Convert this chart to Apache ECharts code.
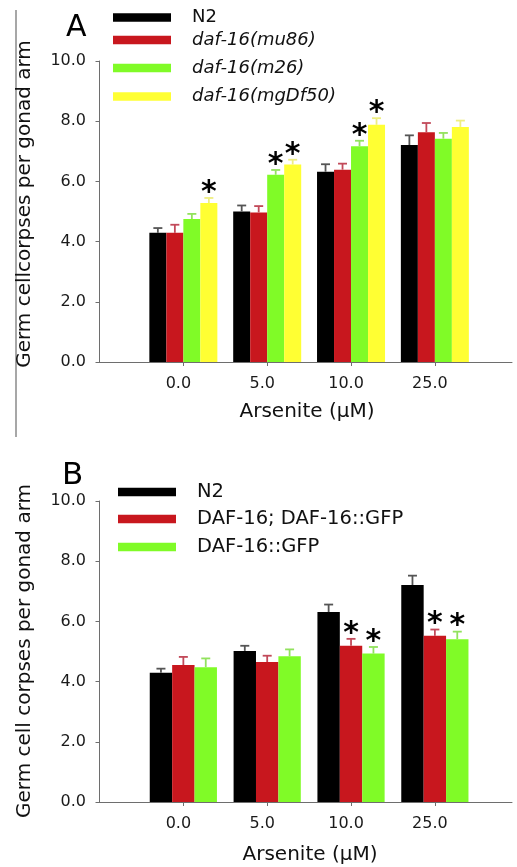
<!DOCTYPE html>
<html>
<head>
<meta charset="utf-8">
<script src="https://cdn.jsdelivr.net/npm/echarts@6/dist/echarts.min.js"></script>
<style>html,body{margin:0;padding:0;background:#fff;}#c{width:517px;height:867px;}</style>
</head>
<body>
<div id="c"></div>
<script>
// ---- data ----
const xLabels = ['0.0', '5.0', '10.0', '25.0'];
const yTicks = [0, 2, 4, 6, 8, 10];

// Panel A
const namesA = ['N2', 'daf-16(mu86)', 'daf-16(m26)', 'daf-16(mgDf50)'];
const meanA_N2 = [4.29, 5.00, 6.32, 7.21];
const meanA_mu86 = [4.29, 4.97, 6.39, 7.63];
const meanA_m26 = [4.75, 6.22, 7.17, 7.42];
const meanA_mgDf50 = [5.28, 6.56, 7.88, 7.81];
const errA_N2 = [0.16, 0.20, 0.25, 0.32];
const errA_mu86 = [0.27, 0.21, 0.20, 0.31];
const errA_m26 = [0.17, 0.16, 0.18, 0.19];
const errA_mgDf50 = [0.17, 0.16, 0.22, 0.21];
const sigA_N2 = [0, 0, 0, 0];
const sigA_mu86 = [0, 0, 0, 0];
const sigA_m26 = [0, 1, 1, 0];
const sigA_mgDf50 = [1, 1, 1, 0];

// Panel B
const namesB = ['N2', 'DAF-16; DAF-16::GFP', 'DAF-16::GFP'];
const meanB_N2 = [4.29, 5.02, 6.31, 7.21];
const meanB_rescue = [4.55, 4.65, 5.19, 5.52];
const meanB_gfp = [4.48, 4.84, 4.93, 5.41];
const errB_N2 = [0.14, 0.17, 0.25, 0.31];
const errB_rescue = [0.27, 0.21, 0.23, 0.21];
const errB_gfp = [0.29, 0.23, 0.22, 0.25];
const sigB_N2 = [0, 0, 0, 0];
const sigB_rescue = [0, 0, 1, 1];
const sigB_gfp = [0, 0, 1, 1];

// ---- styling ----
const FONT = 'DejaVu Sans';
const barColors = ['#000000', '#c8171e', '#80fb27', '#ffff33'];
const errColors = ['#555555', '#c24a5a', '#92e25e', '#eeee80'];
const axisColor = '#6e6e6e';

const panelA = {means: [meanA_N2, meanA_mu86, meanA_m26, meanA_mgDf50], errs: [errA_N2, errA_mu86, errA_m26, errA_mgDf50], sigs: [sigA_N2, sigA_mu86, sigA_m26, sigA_mgDf50], names: namesA, barWidth: 17, grid: 0};
const panelB = {means: [meanB_N2, meanB_rescue, meanB_gfp], errs: [errB_N2, errB_rescue, errB_gfp], sigs: [sigB_N2, sigB_rescue, sigB_gfp], names: namesB, barWidth: 22.4, grid: 1};

function makeSeries(panel) {
  const out = [];
  const n = panel.means.length;
  panel.means.forEach((m, si) => {
    out.push({
      type: 'bar', name: panel.names[si],
      xAxisIndex: panel.grid, yAxisIndex: panel.grid,
      barWidth: panel.barWidth, barGap: '0%',
      itemStyle: {color: barColors[si]},
      silent: true,
      data: m.map((v, i) => [i + 1, v])
    });
  });
  panel.means.forEach((m, si) => {
    const col = errColors[si];
    out.push({
      type: 'custom', name: 'err' + panel.grid + '_' + si,
      xAxisIndex: panel.grid, yAxisIndex: panel.grid, z: 5, silent: true,
      data: m.map((v, i) => [i + 1, v, panel.errs[si][i], panel.sigs[si][i]]),
      renderItem: function (params, api) {
        const x = api.value(0), y = api.value(1), e = api.value(2), s = api.value(3);
        const p0 = api.coord([x, y]);
        const p1 = api.coord([x, y + e]);
        const cx = p0[0] + (si - (n - 1) / 2) * panel.barWidth;
        const ch = [
          {type: 'line', shape: {x1: cx, y1: p0[1], x2: cx, y2: p1[1]}, style: {stroke: col, lineWidth: 1.8}},
          {type: 'line', shape: {x1: cx - 4.5, y1: p1[1], x2: cx + 4.5, y2: p1[1]}, style: {stroke: col, lineWidth: 1.8}}
        ];
        if (s) {
          ch.push({type: 'text', style: {text: '*', x: cx, y: p1[1] - 5, align: 'center', verticalAlign: 'middle', font: 'bold 30px "' + FONT + '"', fill: '#000'}});
        }
        return {type: 'group', children: ch};
      }
    });
  });
  return out;
}

function xAxis(gi) {
  return {
    type: 'value', gridIndex: gi, min: -0.03, max: 4.92,
    axisLine: {show: true, lineStyle: {color: axisColor, width: 1}},
    axisTick: {show: true, inside: false, length: 4, customValues: [1, 2, 3, 4], lineStyle: {color: axisColor}},
    splitLine: {show: false},
    axisLabel: {
      customValues: [1, 2, 3, 4], margin: 14, padding: [0, 10, 0, 0],
      fontFamily: FONT, fontSize: 16, color: '#1a1a1a',
      formatter: v => xLabels[Math.round(v) - 1] || ''
    }
  };
}
function yAxis(gi) {
  return {
    type: 'value', gridIndex: gi, min: 0, max: 10, interval: 2,
    axisLine: {show: true, lineStyle: {color: axisColor, width: 1}},
    axisTick: {show: true, inside: false, length: 4, lineStyle: {color: axisColor}},
    splitLine: {show: false},
    axisLabel: {margin: 11, fontFamily: FONT, fontSize: 16, color: '#1a1a1a', formatter: v => v.toFixed(1)}
  };
}

function legendItem(name, top, left, fontSize, italic) {
  return {
    data: [name], top: top, left: left, orient: 'vertical',
    icon: 'rect', itemWidth: 58, itemHeight: 8.5, padding: 0,
    selectedMode: false,
    formatter: '{s|}' + '{t|' + name + '}',
    textStyle: {
      rich: {
        s: {width: 16},
        t: {fontFamily: FONT, fontSize: fontSize, fontStyle: italic ? 'italic' : 'normal', color: '#111'}
      }
    }
  };
}

const legends = [
  legendItem(namesA[0], 8.5, 113, 18, false),
  legendItem(namesA[1], 31, 113, 18, true),
  legendItem(namesA[2], 59, 113, 18, true),
  legendItem(namesA[3], 87.5, 113, 18, true),
  legendItem(namesB[0], 482, 118, 19.5, false),
  legendItem(namesB[1], 509, 118, 19.5, false),
  legendItem(namesB[2], 537, 118, 19.5, false)
];

const chart = echarts.init(document.getElementById('c'), null, {renderer: 'canvas'});
chart.setOption({
  animation: false,
  backgroundColor: '#ffffff',
  grid: [
    {left: 97, top: 61, width: 415, height: 301},
    {left: 97, top: 501, width: 415, height: 301}
  ],
  xAxis: [xAxis(0), xAxis(1)],
  yAxis: [yAxis(0), yAxis(1)],
  legend: legends,
  series: [...makeSeries(panelA), ...makeSeries(panelB)],
  graphic: [
    {type: 'line', shape: {x1: 16, y1: 10, x2: 16, y2: 437}, style: {stroke: '#8a8a8a', lineWidth: 1.5}},
    {type: 'text', x: 66, y: 13, style: {text: 'A', font: '30px "' + FONT + '"', fill: '#000'}},
    {type: 'text', x: 62, y: 460, style: {text: 'B', font: '31px "' + FONT + '"', fill: '#000'}},
    {type: 'text', x: 25, y: 204, rotation: Math.PI / 2, style: {text: 'Germ cellcorpses per gonad arm', font: '20px "' + FONT + '"', fill: '#111', align: 'center', verticalAlign: 'middle'}},
    {type: 'text', x: 307, y: 412, style: {text: 'Arsenite (\u03bcM)', font: '20px "' + FONT + '"', fill: '#111', align: 'center', verticalAlign: 'middle'}},
    {type: 'text', x: 25, y: 651, rotation: Math.PI / 2, style: {text: 'Germ cell corpses per gonad arm', font: '20px "' + FONT + '"', fill: '#111', align: 'center', verticalAlign: 'middle'}},
    {type: 'text', x: 310, y: 855, style: {text: 'Arsenite (\u03bcM)', font: '20px "' + FONT + '"', fill: '#111', align: 'center', verticalAlign: 'middle'}}
  ]
});
</script>
</body>
</html>
